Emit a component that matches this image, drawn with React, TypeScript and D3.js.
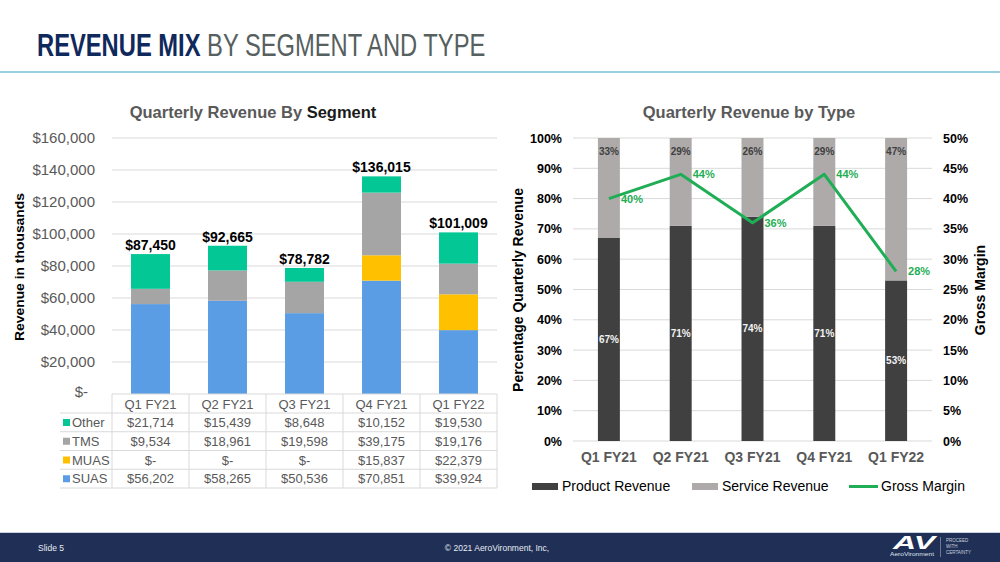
import React from "react";
import * as d3 from "d3";

const categories = ["Q1 FY21", "Q2 FY21", "Q3 FY21", "Q4 FY21", "Q1 FY22"];
const suas = [56202, 58265, 50536, 70851, 39924];
const muas = [0, 0, 0, 15837, 22379];
const tms = [9534, 18961, 19598, 39175, 19176];
const other = [21714, 15439, 8648, 10152, 19530];
const segTicks = [0, 20000, 40000, 60000, 80000, 100000, 120000, 140000, 160000];

const productPct = [67, 71, 74, 71, 53];
const servicePct = [33, 29, 26, 29, 47];
const grossMargin = [40, 44, 36, 44, 28];
const pctTicks = [0, 10, 20, 30, 40, 50, 60, 70, 80, 90, 100];
const marginTicks = [0, 5, 10, 15, 20, 25, 30, 35, 40, 45, 50];

const FONT = "'Liberation Sans', Arial, sans-serif";
const C_SUAS = "#5b9de4";
const C_MUAS = "#ffc000";
const C_TMS = "#a5a5a5";
const C_OTHER = "#03c795";
const C_PROD = "#404040";
const C_SERV = "#aeaaaa";
const C_GM = "#1fae55";
const GRID = "#d9d9d9";

const fmtMoney = (v: number) => (v === 0 ? "$-" : "$" + d3.format(",")(v));

export default function App() {
  // ---------- Left chart ----------
  const segKeys = ["suas", "muas", "tms", "other"];
  const segColors: Record<string, string> = { suas: C_SUAS, muas: C_MUAS, tms: C_TMS, other: C_OTHER };
  const rows = categories.map((c, i) => ({ cat: c, suas: suas[i], muas: muas[i], tms: tms[i], other: other[i] }));
  const stacked = d3.stack<any>().keys(segKeys)(rows);
  const totals = categories.map((_, i) => suas[i] + muas[i] + tms[i] + other[i]);

  const xL = d3.scaleBand<string>().domain(categories).range([112, 497]).paddingInner(0.494).paddingOuter(0.247);
  const yL = d3.scaleLinear().domain([0, 160000]).range([394, 138]);
  const colEdges = d3.range(categories.length + 1).map((i) => 112 + i * xL.step());

  const tableRows = [
    { name: "Other", color: C_OTHER, vals: other },
    { name: "TMS", color: C_TMS, vals: tms },
    { name: "MUAS", color: C_MUAS, vals: muas },
    { name: "SUAS", color: C_SUAS, vals: suas },
  ];
  const rowTop = 413;
  const rowH = 18.75;

  // ---------- Right chart ----------
  const xR = d3.scaleBand<string>().domain(categories).range([573, 932]).paddingInner(0.694).paddingOuter(0.347);
  const yR = d3.scaleLinear().domain([0, 100]).range([441, 138]);
  const yR2 = d3.scaleLinear().domain([0, 50]).range([441, 138]);
  const lineGen = d3
    .line<number>()
    .x((_, i) => (xR(categories[i]) as number) + xR.bandwidth() / 2)
    .y((d) => yR2(d));

  return (
    <svg width={1000} height={562} style={{ display: "block", position: "absolute", left: 0, top: 0 }} fontFamily={FONT}>
      <rect x={0} y={0} width={1000} height={562} fill="#ffffff" />
      {/* Title */}
      <text transform="translate(37,56) scale(0.742,1)" fontSize={32}>
        <tspan fill="#10295c" fontWeight="bold">REVENUE MIX</tspan>
        <tspan fill="#56605e"> BY SEGMENT AND TYPE</tspan>
      </text>
      <line x1={0} x2={1000} y1={72} y2={72} stroke="#76c0d8" strokeWidth={1.5} />

      {/* ===== Left chart ===== */}
      <text x={253} y={118} textAnchor="middle" fontSize={16.5} fontWeight="bold">
        <tspan fill="#595959">Quarterly Revenue By </tspan>
        <tspan fill="#1a1a1a">Segment</tspan>
      </text>
      {segTicks.map((t) =>
        t === 0 ? null : (
          <line key={t} x1={112} x2={497} y1={yL(t)} y2={yL(t)} stroke={GRID} strokeWidth={1} />
        )
      )}
      {segTicks.map((t) => (
        <text key={"l" + t} x={t === 0 ? 88 : 95} y={yL(t) + (t === 0 ? 3 : 5)} textAnchor="end" fontSize={15} fill="#595959">
          {fmtMoney(t)}
        </text>
      ))}
      <text transform={`translate(24,${267}) rotate(-90)`} textAnchor="middle" fontSize={13.5} fontWeight="bold" fill="#000" textLength={148} lengthAdjust="spacingAndGlyphs">
        Revenue in thousands
      </text>
      {stacked.map((s) =>
        s.map((d, i) => (
          <rect
            key={s.key + i}
            x={xL(categories[i])}
            y={yL(d[1])}
            width={xL.bandwidth()}
            height={Math.max(0, yL(d[0]) - yL(d[1]))}
            fill={segColors[s.key]}
          />
        ))
      )}
      {totals.map((t, i) => (
        <text key={"tot" + i} x={(xL(categories[i]) as number) + xL.bandwidth() / 2} y={yL(t) - 4} textAnchor="middle" fontSize={14} fontWeight="bold" fill="#000">
          {fmtMoney(t)}
        </text>
      ))}
      {/* Data table */}
      <line x1={112} x2={497} y1={394} y2={394} stroke={GRID} />
      {tableRows.map((_, r) => (
        <line key={"hr" + r} x1={60} x2={497} y1={rowTop + r * rowH} y2={rowTop + r * rowH} stroke={GRID} />
      ))}
      <line x1={60} x2={497} y1={rowTop + 4 * rowH} y2={rowTop + 4 * rowH} stroke={GRID} />
      {colEdges.map((x, i) => (
        <line key={"vc" + i} x1={x} x2={x} y1={394} y2={rowTop + 4 * rowH} stroke={GRID} />
      ))}
      {categories.map((c) => (
        <text key={"hc" + c} x={(xL(c) as number) + xL.bandwidth() / 2} y={409} textAnchor="middle" fontSize={13} fill="#595959">
          {c}
        </text>
      ))}
      {tableRows.map((row, r) => (
        <g key={"tr" + r}>
          <rect x={63} y={rowTop + r * rowH + 6} width={7} height={7} fill={row.color} />
          <text x={72} y={rowTop + r * rowH + 14} fontSize={13} fill="#595959">
            {row.name}
          </text>
          {row.vals.map((v, i) => (
            <text key={i} x={(xL(categories[i]) as number) + xL.bandwidth() / 2} y={rowTop + r * rowH + 14} textAnchor="middle" fontSize={13} fill="#595959">
              {fmtMoney(v)}
            </text>
          ))}
        </g>
      ))}

      {/* ===== Right chart ===== */}
      <text x={749} y={118} textAnchor="middle" fontSize={16.5} fontWeight="bold" fill="#595959">
        Quarterly Revenue by Type
      </text>
      {pctTicks.map((t) => (
        <line key={"g" + t} x1={573} x2={932} y1={yR(t)} y2={yR(t)} stroke={GRID} strokeWidth={1} />
      ))}
      {pctTicks.map((t) => (
        <text key={"pl" + t} x={562} y={yR(t) + 4.5} textAnchor="end" fontSize={12.5} fontWeight="bold" fill="#000">
          {t + "%"}
        </text>
      ))}
      {marginTicks.map((t) => (
        <text key={"ml" + t} x={943} y={yR2(t) + 4.5} fontSize={12.5} fontWeight="bold" fill="#000">
          {t + "%"}
        </text>
      ))}
      <text transform={`translate(523,290) rotate(-90)`} textAnchor="middle" fontSize={14} fontWeight="bold" fill="#000">
        Percentage Quarterly  Revenue
      </text>
      <text transform={`translate(985,290) rotate(-90)`} textAnchor="middle" fontSize={14} fontWeight="bold" fill="#000">
        Gross Margin
      </text>
      {categories.map((c, i) => {
        const x = xR(c) as number;
        const w = xR.bandwidth();
        return (
          <g key={"rb" + i}>
            <rect x={x} y={yR(productPct[i])} width={w} height={yR(0) - yR(productPct[i])} fill={C_PROD} />
            <rect x={x} y={yR(100)} width={w} height={yR(productPct[i]) - yR(100)} fill={C_SERV} />
            <text x={x + w / 2} y={(yR(0) + yR(productPct[i])) / 2 + 3.5} textAnchor="middle" fontSize={10} fontWeight="bold" fill="#f2f2f2">
              {productPct[i] + "%"}
            </text>
            <text x={x + w / 2} y={yR(100) + 17} textAnchor="middle" fontSize={10} fontWeight="bold" fill="#404040">
              {servicePct[i] + "%"}
            </text>
          </g>
        );
      })}
      <path d={lineGen(grossMargin) || ""} fill="none" stroke={C_GM} strokeWidth={3} strokeLinejoin="round" />
      {grossMargin.map((g, i) => (
        <text key={"gm" + i} x={(xR(categories[i]) as number) + xR.bandwidth() / 2 + 12} y={yR2(g) + 4} fontSize={11} fontWeight="bold" fill={C_GM}>
          {g + "%"}
        </text>
      ))}
      {categories.map((c) => (
        <text key={"rx" + c} x={(xR(c) as number) + xR.bandwidth() / 2} y={462} textAnchor="middle" fontSize={14} fontWeight="bold" fill="#595959">
          {c}
        </text>
      ))}
      {/* Legend */}
      <rect x={532} y={483} width={26} height={7} fill={C_PROD} />
      <text x={562} y={491} fontSize={14} fill="#000">Product Revenue</text>
      <rect x={692} y={483} width={26} height={7} fill={C_SERV} />
      <text x={722} y={491} fontSize={14} fill="#000">Service Revenue</text>
      <line x1={849} x2={878} y1={486.5} y2={486.5} stroke={C_GM} strokeWidth={3} />
      <text x={881} y={491} fontSize={14} fill="#000">Gross Margin</text>

      {/* Footer */}
      <rect x={0} y={532} width={1000} height={30} fill="#1f2f55" />
      <line x1={0} x2={1000} y1={532.5} y2={532.5} stroke="#c9d3e0" strokeWidth={1} />
      <text x={38} y={551} fontSize={8.5} fill="#e8ecf3">Slide 5</text>
      <text x={497} y={551} textAnchor="middle" fontSize={8.5} fill="#e8ecf3">© 2021 AeroVironment, Inc,</text>
      <text x={893} y={549} fontSize={19} fontWeight="bold" fontStyle="italic" fill="#ffffff" textLength={42} lengthAdjust="spacingAndGlyphs">AV</text>
      <text x={890} y={555.5} fontSize={4.5} fill="#dfe5ee" textLength={44} lengthAdjust="spacingAndGlyphs">AeroVironment</text>
      <line x1={940.5} x2={940.5} y1={537} y2={557} stroke="#7d8aa6" strokeWidth={0.8} />
      <text x={946} y={542} fontSize={4.5} fill="#c9d1df">PROCEED</text>
      <text x={946} y={548} fontSize={4.5} fill="#c9d1df">WITH</text>
      <text x={946} y={554} fontSize={4.5} fill="#c9d1df">CERTAINTY</text>
    </svg>
  );
}
